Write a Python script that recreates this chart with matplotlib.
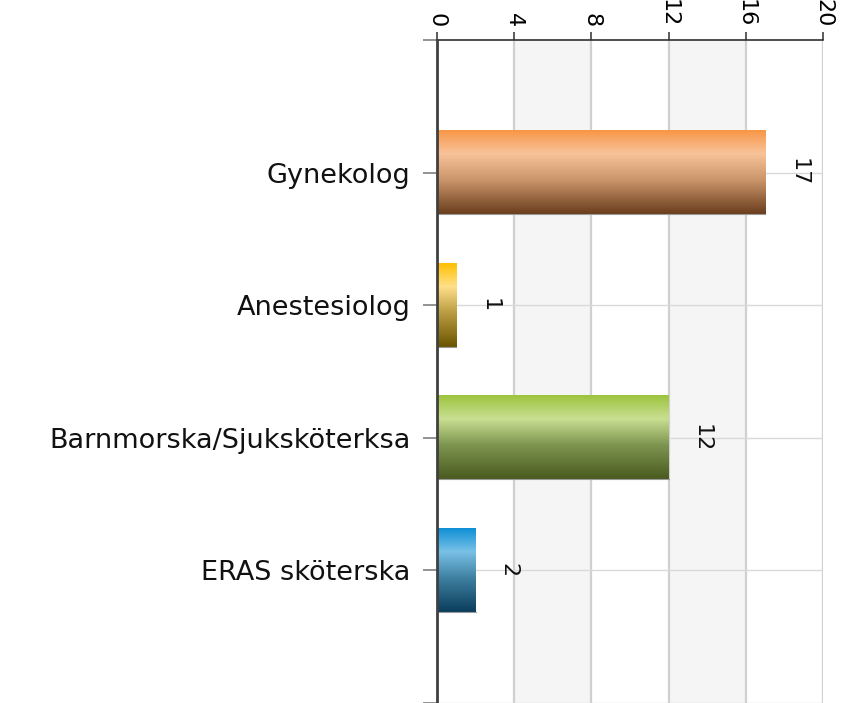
import numpy as np
import matplotlib
matplotlib.use("Agg")
import matplotlib.pyplot as plt
from matplotlib.colors import LinearSegmentedColormap

categories = ["Gynekolog", "Anestesiolog", "Barnmorska/Sjuksköterksa", "ERAS sköterska"]
values = [17, 1, 12, 2]
x_ticks = [0, 4, 8, 12, 16, 20]

gradients = [
    ["#f79646", "#f9c39a", "#c9946a", "#6a3d1c"],
    ["#ffc000", "#ffe08a", "#b89a40", "#6b5500"],
    ["#9cc43e", "#c9df91", "#7d9450", "#4a5a1f"],
    ["#0e8fd6", "#79c1e7", "#3e7fa0", "#0b3d5c"],
]
stops = [0.0, 0.28, 0.6, 1.0]

plt.rcParams['font.family'] = ['DejaVu Sans']

fig = plt.figure(figsize=(8.46, 7.03), dpi=100)
ax = fig.add_axes([0.5165, 0.0, 0.4563, 0.9431])

ypos = np.arange(1, len(categories) + 1)
ax.set_xlim(0, 20)
ax.set_ylim(len(categories) + 1, 0)

# alternating bands
for i in range(len(x_ticks) - 1):
    if i % 2 == 1:
        ax.axvspan(x_ticks[i], x_ticks[i + 1], color="#f5f5f5", zorder=0, lw=0)
for xt in x_ticks[1:]:
    ax.axvline(xt, color="#d0d0d0", lw=1.6, zorder=0.5)
for yt in list(ypos) + [len(categories) + 1]:
    ax.axhline(yt, color="#d9d9d9", lw=1.0, zorder=0.6)

bars = ax.barh(ypos, values, height=0.626, facecolor="none", edgecolor="none", zorder=2)
for bar, cols in zip(bars, gradients):
    bb = bar.get_bbox()
    cmap = LinearSegmentedColormap.from_list("g", list(zip(stops, cols)))
    grad = np.linspace(0, 1, 256).reshape(-1, 1)
    ax.imshow(grad, cmap=cmap, aspect="auto", extent=(bb.x0, bb.x1, bb.y1, bb.y0),
              origin="upper", zorder=2, interpolation="bilinear")
    ax.plot([bb.x0, bb.x1], [bb.y1, bb.y1], color="#9a9a9a", lw=0.8, zorder=2.5)

for y, v in zip(ypos, values):
    ax.annotate(str(v), xy=(v, y), xytext=(23, 0), textcoords="offset pixels",
                rotation=-90, ha="left", va="center", fontsize=16, color="#111111")

ax.set_xlim(0, 20)
ax.set_ylim(len(categories) + 1, 0)

ax.xaxis.tick_top()
ax.set_xticks(x_ticks)
ax.set_xticklabels([str(t) for t in x_ticks], rotation=-90, fontsize=16)
ax.tick_params(axis="x", direction="out", length=6, width=1.2, color="#404040", pad=3)

ax.set_yticks(list(range(0, len(categories) + 2)))
ax.set_yticklabels([""] + categories + [""], fontsize=19.5, color="#111111")
ax.tick_params(axis="y", direction="out", length=10, width=1.2, color="#808080", pad=9)

for s in ["right", "bottom"]:
    ax.spines[s].set_visible(False)
ax.spines["left"].set_color("#404040")
ax.spines["left"].set_linewidth(2)
ax.spines["top"].set_color("#303030")
ax.spines["top"].set_linewidth(1.2)
ax.spines["left"].set_zorder(3)

fig.savefig("out.png", dpi=100)
